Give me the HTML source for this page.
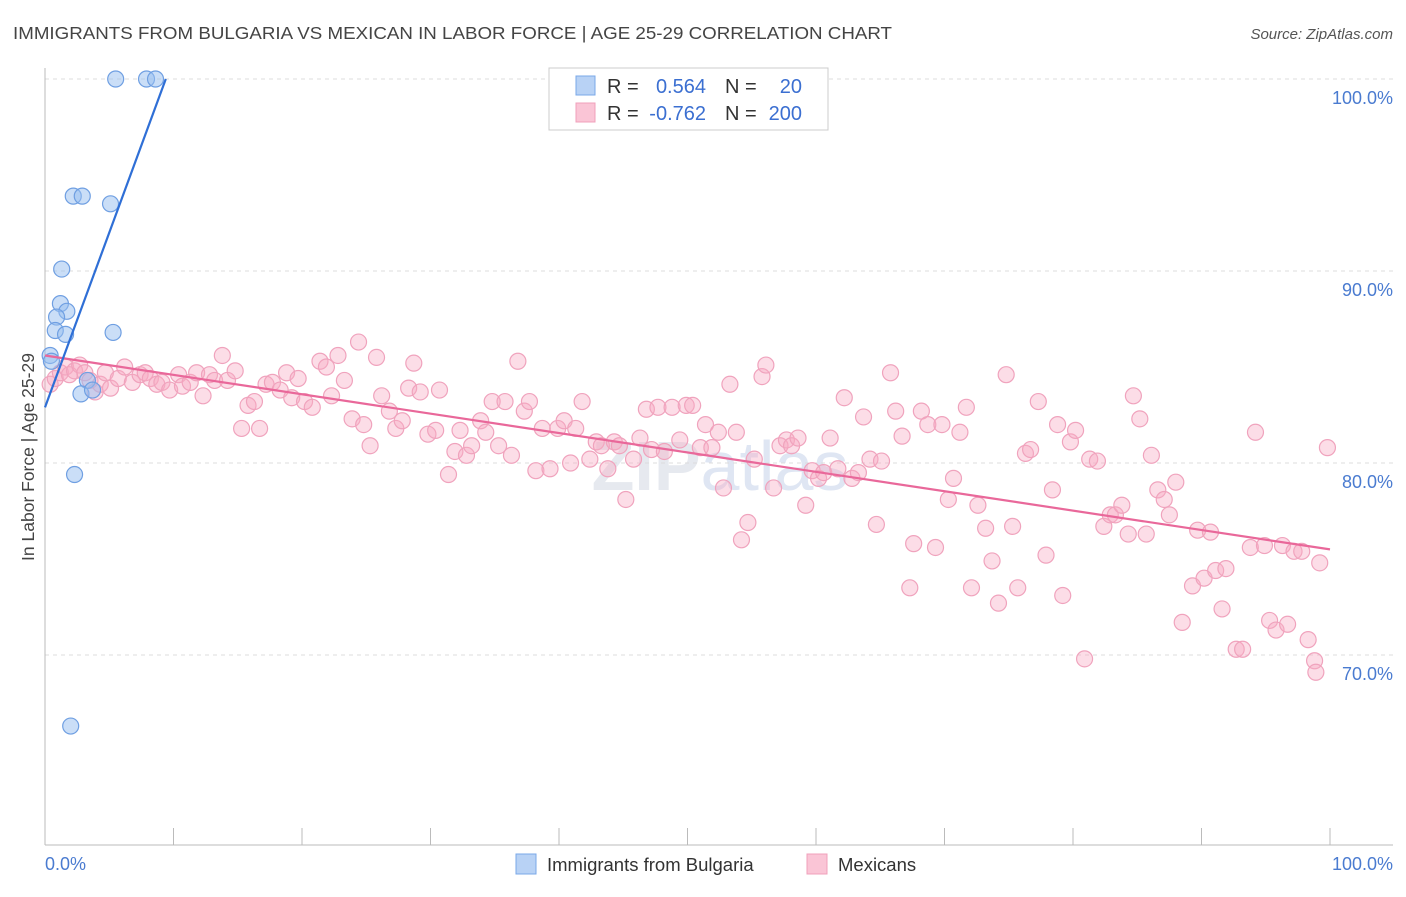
<!DOCTYPE html>
<html><head><meta charset="utf-8"><style>
body{margin:0;background:#fff;font-family:"Liberation Sans",sans-serif;}
svg text{font-family:"Liberation Sans",sans-serif;}
</style></head><body>
<svg id="chart" width="1406" height="892" xmlns="http://www.w3.org/2000/svg">
<text x="13" y="39" font-size="17.5" fill="#444" textLength="879" lengthAdjust="spacingAndGlyphs">IMMIGRANTS FROM BULGARIA VS MEXICAN IN LABOR FORCE | AGE 25-29 CORRELATION CHART</text>
<text x="1393" y="39" font-size="15" fill="#555" font-style="italic" text-anchor="end">Source: ZipAtlas.com</text>
<text x="720" y="490" font-size="70" fill="#e6e9ef" text-anchor="middle" font-weight="bold">ZIP<tspan fill="#dfe6f3" font-weight="normal">atlas</tspan></text>
<g id="grid"></g>
<g id="pinkpts"></g>
<g id="bluepts"></g>
<g id="lines"></g>
<text transform="translate(34,457) rotate(-90)" font-size="17.5" fill="#444" text-anchor="middle">In Labor Force | Age 25-29</text>
<text x="45" y="870" font-size="18" fill="#4a7bd0">0.0%</text>
<text x="1393" y="870" font-size="18" fill="#4a7bd0" text-anchor="end">100.0%</text>
<g>
<rect x="549" y="68" width="279" height="62" fill="#fff" stroke="#ccc"/>
<rect x="576" y="76" width="19" height="19" fill="#b8d2f5" stroke="#7aa8e8"/>
<rect x="576" y="103" width="19" height="19" fill="#fac5d6" stroke="#f0a0bb"/>
<text x="607" y="93" font-size="20" fill="#333">R =</text>
<text x="706" y="93" font-size="20" fill="#3b6fd1" text-anchor="end">0.564</text>
<text x="725" y="93" font-size="20" fill="#333">N =</text>
<text x="802" y="93" font-size="20" fill="#3b6fd1" text-anchor="end">20</text>
<text x="607" y="120" font-size="20" fill="#333">R =</text>
<text x="706" y="120" font-size="20" fill="#3b6fd1" text-anchor="end">-0.762</text>
<text x="725" y="120" font-size="20" fill="#333">N =</text>
<text x="802" y="120" font-size="20" fill="#3b6fd1" text-anchor="end">200</text>
</g>
<g>
<rect x="516" y="854" width="20" height="20" fill="#b8d2f5" stroke="#7aa8e8"/>
<text x="547" y="871" font-size="18.5" fill="#333">Immigrants from Bulgaria</text>
<rect x="807" y="854" width="20" height="20" fill="#fac5d6" stroke="#f0a0bb"/>
<text x="838" y="871" font-size="18.5" fill="#333">Mexicans</text>
</g>
</svg>
<script>
const yTicks=[100,90,80,70];
const yTickLabels=["100.0%","90.0%","80.0%","70.0%"];
const xTicks=[0,10,20,30,40,50,60,70,80,90,100];
const blueX=[5.5,7.9,8.6,2.2,2.9,5.1,1.3,1.2,1.7,0.9,0.8,1.6,5.3,0.4,0.5,3.3,2.8,3.7,2.3,2.0];
const blueY=[100,100,100,93.9,93.9,93.5,90.1,88.3,87.9,87.6,86.9,86.7,86.8,85.6,85.3,84.3,83.6,83.8,79.4,66.3];
const pinkX=[0.4,0.8,1.2,1.6,1.9,2.3,2.7,3.1,3.5,3.9,4.3,4.7,5.1,5.7,6.2,6.8,7.4,7.8,8.2,8.7,9.1,9.7,10.4,10.7,11.3,11.8,12.3,12.8,13.2,13.8,14.2,14.8,15.3,15.8,16.3,16.7,17.2,17.7,18.3,18.8,19.2,19.7,20.2,20.8,21.4,21.9,22.3,22.8,23.3,23.9,24.4,24.8,25.3,25.8,26.2,26.8,27.3,27.8,28.3,28.7,29.2,29.8,30.4,30.7,31.4,31.9,32.3,32.8,33.2,33.9,34.3,34.8,35.3,35.8,36.3,36.8,37.3,37.7,38.2,38.7,39.3,39.9,40.4,40.9,41.3,41.8,42.4,42.9,43.3,43.8,44.3,44.7,45.2,45.8,46.3,46.8,47.2,47.7,48.2,48.8,49.4,49.9,50.4,51.0,51.4,51.9,52.4,52.8,53.3,53.8,54.2,54.7,55.2,55.8,56.1,56.7,57.2,57.7,58.1,58.6,59.2,59.7,60.2,60.6,61.1,61.7,62.2,62.8,63.3,63.7,64.2,64.7,65.1,65.8,66.2,66.7,67.3,67.6,68.2,68.7,69.3,69.8,70.3,70.7,71.2,71.7,72.1,72.6,73.2,73.7,74.2,74.8,75.3,75.7,76.3,76.7,77.3,77.9,78.4,78.8,79.2,79.8,80.2,80.9,81.3,81.9,82.4,82.9,83.3,83.8,84.3,84.7,85.2,85.7,86.1,86.6,87.1,87.5,88.0,88.5,89.3,89.7,90.2,90.7,91.1,91.6,91.9,92.7,93.2,93.8,94.2,94.9,95.3,95.8,96.3,96.7,97.2,97.8,98.3,98.8,99.2,99.8,98.9];
const pinkY=[84.1,84.4,84.7,85.0,84.6,84.8,85.1,84.7,84.3,83.7,84.1,84.7,83.9,84.4,85.0,84.2,84.6,84.7,84.4,84.1,84.2,83.8,84.6,84.0,84.2,84.7,83.5,84.6,84.3,85.6,84.3,84.8,81.8,83.0,83.2,81.8,84.1,84.2,83.8,84.7,83.4,84.4,83.2,82.9,85.3,85.0,83.5,85.6,84.3,82.3,86.3,82.0,80.9,85.5,83.5,82.7,81.8,82.2,83.9,85.2,83.7,81.5,81.7,83.8,79.4,80.6,81.7,80.4,80.9,82.2,81.6,83.2,80.9,83.2,80.4,85.3,82.7,83.2,79.6,81.8,79.7,81.8,82.2,80.0,81.8,83.2,80.2,81.1,80.9,79.7,81.1,80.9,78.1,80.2,81.3,82.8,80.7,82.9,80.6,82.9,81.2,83.0,83.0,80.8,82.0,80.8,81.6,78.7,84.1,81.6,76.0,76.9,80.2,84.5,85.1,78.7,80.9,81.2,80.9,81.3,77.8,79.6,79.2,79.5,81.3,79.7,83.4,79.2,79.5,82.4,80.2,76.8,80.1,84.7,82.7,81.4,73.5,75.8,82.7,82.0,75.6,82.0,78.1,79.2,81.6,82.9,73.5,77.8,76.6,74.9,72.7,84.6,76.7,73.5,80.5,80.7,83.2,75.2,78.6,82.0,73.1,81.1,81.7,69.8,80.2,80.1,76.7,77.3,77.3,77.8,76.3,83.5,82.3,76.3,80.4,78.6,78.1,77.3,79.0,71.7,73.6,76.5,74.0,76.4,74.4,72.4,74.5,70.3,70.3,75.6,81.6,75.7,71.8,71.3,75.7,71.6,75.4,75.4,70.8,69.7,74.8,80.8,69.1];
const blueTrendX=[0,9.4];
const blueTrendY=[82.9,100];
const pinkTrendX=[0,100];
const pinkTrendY=[85.6,75.5];

const NS="http://www.w3.org/2000/svg";
const X0=45,X1=1330,Y100=79,PX_PER=19.2;
function sx(v){return X0+(X1-X0)*v/100;}
function sy(v){return Y100+(100-v)*PX_PER;}
function mk(tag,attrs,parent){const e=document.createElementNS(NS,tag);for(const k in attrs)e.setAttribute(k,attrs[k]);parent.appendChild(e);return e;}

const grid=document.getElementById('grid');
yTicks.forEach((t,i)=>{
  const l=mk('line',{x1:45,x2:1393,y1:sy(t),y2:sy(t),stroke:'#dcdcdc','stroke-dasharray':'4,4'},grid);
  
  
  const tx=mk('text',{x:1393,y:sy(t)+25,'font-size':18,fill:'#4a7bd0','text-anchor':'end'},grid);
  tx.textContent=yTickLabels[i];
  
  
});
const ax=mk('line',{x1:45,x2:45,y1:68,y2:845,stroke:'#bbb'},grid);


const bx=mk('line',{x1:45,x2:1393,y1:845,y2:845,stroke:'#bbb'},grid);


xTicks.forEach(t=>{
  const l=mk('line',{x1:sx(t),x2:sx(t),y1:828,y2:845,stroke:'#bbb'},grid);
  
  
});

const pg=document.getElementById('pinkpts');
pinkX.forEach((x,i)=>{
  const c=mk('circle',{cx:sx(x),cy:sy(pinkY[i]),r:8,fill:'rgba(248,170,196,0.4)',stroke:'#f0a3bd','stroke-width':1.2},pg);
  
  
});
const bg=document.getElementById('bluepts');
blueX.forEach((x,i)=>{
  const c=mk('circle',{cx:sx(x),cy:sy(blueY[i]),r:8,fill:'rgba(150,190,240,0.5)',stroke:'#6f9fe2','stroke-width':1.2},bg);
  
  
});
const lg=document.getElementById('lines');
const pl=mk('line',{x1:sx(pinkTrendX[0]),y1:sy(pinkTrendY[0]),x2:sx(pinkTrendX[1]),y2:sy(pinkTrendY[1]),stroke:'#e9689a','stroke-width':2.2},lg);


const bl=mk('line',{x1:sx(blueTrendX[0]),y1:sy(blueTrendY[0]),x2:sx(blueTrendX[1]),y2:sy(blueTrendY[1]),stroke:'#2f6fd6','stroke-width':2.2},lg);


</script>
</body></html>
